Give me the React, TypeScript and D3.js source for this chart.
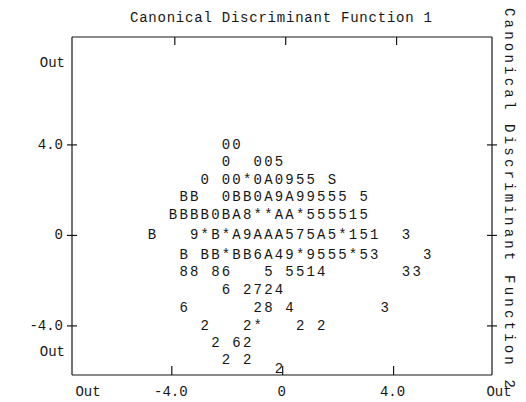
import React from 'react';
import * as d3 from 'd3';

// character grid of the all-groups scatterplot (one char per cell)
const rowY = [4.0, 3.25, 2.45, 1.7, 0.9, 0.0, -0.86, -1.61, -2.41, -3.2, -4.0, -4.75, -5.5, -5.92];
const rowText = [
  '       00',
  '       0  005',
  '     0 00*0A0955 S',
  '   BB  0BB0A9A99555 5',
  '  BBBB0BA8**AA*555515',
  'B   9*B*A9AAA575A5*151  3',
  '   B BB*BB6A49*9555*53    3',
  '   88 86   5 5514       33',
  '       6 2724',
  '   6      28 4        3',
  '     2   2*   2 2',
  '      2 62',
  '       2 2',
  '            2',
];
const colStartX = -4.72;
const colStepX = 0.382;

const xTicks = [-4, 0, 4];
const yTicks = [4, 0, -4];
const xTickLabels = ['-4.0', '0', '4.0'];
const yTickLabels = ['4.0', '0', '-4.0'];

const width = 526;
const height = 402;
const font = '"Liberation Mono", "DejaVu Sans Mono", monospace';
const ink = '#161616';

export default function App() {
  const x = d3.scaleLinear().domain([-7.6, 7.55]).range([72, 492]);
  const y = d3.scaleLinear().domain([8.77, -6.17]).range([37, 375]);
  const [x0, x1] = x.range();
  const [y0, y1] = y.range();

  const cells: { ch: string; cx: number; cy: number; key: string }[] = [];
  rowText.forEach((row, r) => {
    row.split('').forEach((ch, c) => {
      if (ch === ' ') return;
      cells.push({ ch, cx: x(colStartX + c * colStepX), cy: y(rowY[r]), key: `${r}-${c}` });
    });
  });

  return (
    <svg width={width} height={height} style={{ position: 'absolute', left: 0, top: 0, background: '#fff' }}>
      {/* titles */}
      <text x={130} y={22} fontFamily={font} fontSize={14} fill={ink} textLength={302} lengthAdjust="spacing">
        Canonical Discriminant Function 1
      </text>
      <text
        transform={`translate(505,8) rotate(90)`}
        fontFamily={font}
        fontSize={14}
        fill={ink}
        textLength={380}
        lengthAdjust="spacing"
      >
        Canonical Discriminant Function 2
      </text>

      {/* frame */}
      <g stroke={ink} strokeWidth={1.2} fill="none">
        <line x1={x0} y1={y0} x2={x1} y2={y0} />
        <line x1={x0} y1={y1} x2={x1} y2={y1} />
        <line x1={x0} y1={y0} x2={x0} y2={y1} />
        <line x1={x1} y1={y0} x2={x1} y2={y1} />
        {xTicks.map(t => (
          <g key={`xt${t}`}>
            <line x1={x(t)} x2={x(t)} y1={y1} y2={y1 - 9} />
            <line x1={x(t) + 3} x2={x(t) + 3} y1={y0} y2={y0 + 8} />
          </g>
        ))}
        {yTicks.map(t => (
          <g key={`yt${t}`}>
            <line x1={x0 - 5} x2={x0 + 5} y1={y(t)} y2={y(t)} />
            <line x1={x1 - 5} x2={x1 + 5} y1={y(t)} y2={y(t)} />
          </g>
        ))}
      </g>

      {/* left labels */}
      <g fontFamily={font} fontSize={14} fill={ink} textAnchor="end" dominantBaseline="central">
        <text x={65} y={63}>Out</text>
        {yTicks.map((t, i) => (
          <text key={`yl${t}`} x={63} y={y(t)}>{yTickLabels[i]}</text>
        ))}
        <text x={65} y={352}>Out</text>
      </g>

      {/* bottom labels */}
      <g fontFamily={font} fontSize={14} fill={ink} textAnchor="middle" dominantBaseline="central">
        <text x={88} y={392}>Out</text>
        {xTicks.map((t, i) => (
          <text key={`xl${t}`} x={x(t) - 1} y={392}>{xTickLabels[i]}</text>
        ))}
        <text x={499} y={392}>Out</text>
      </g>

      {/* plotted characters */}
      <g fontFamily={font} fontSize={14} fill={ink} textAnchor="middle" dominantBaseline="central">
        {cells.map(d => (
          <text key={d.key} x={d.cx} y={d.cy}>{d.ch}</text>
        ))}
      </g>
    </svg>
  );
}
